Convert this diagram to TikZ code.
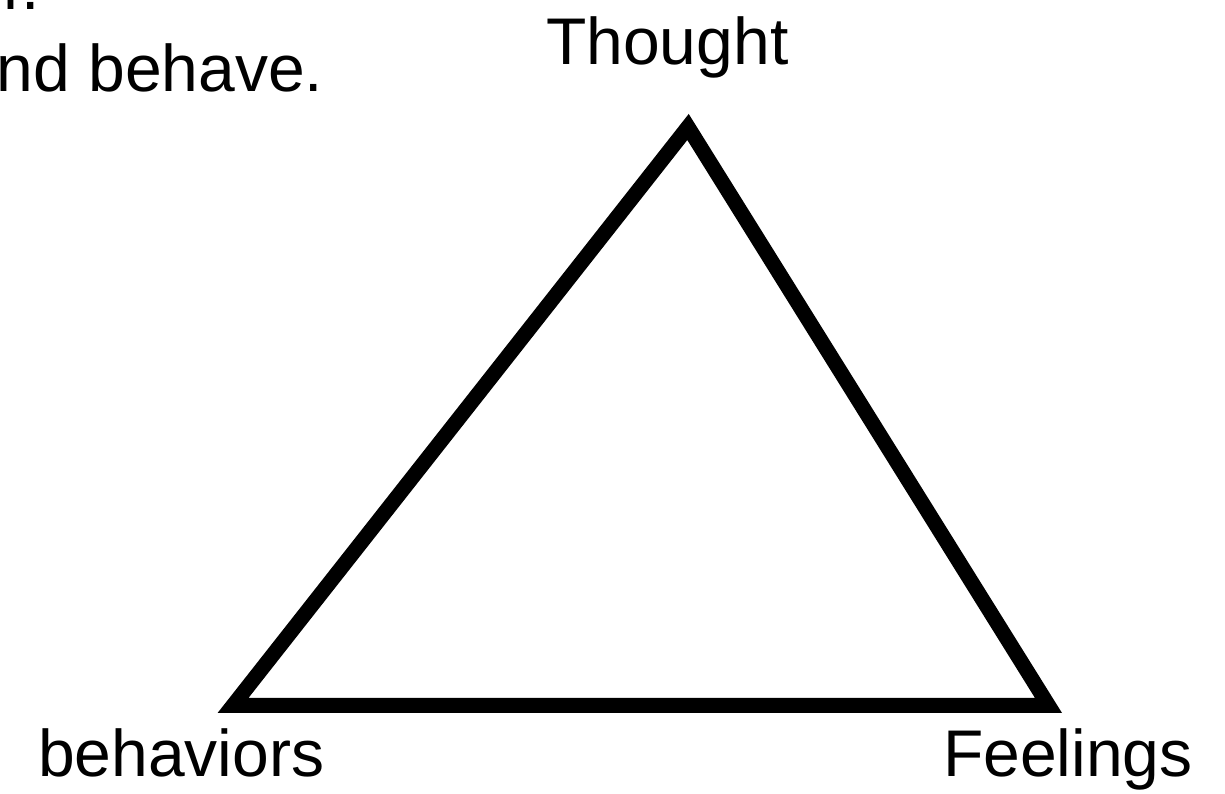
\documentclass[tikz,border=0pt]{standalone}
\usepackage{fontspec}
\setmainfont{Liberation Sans}
\begin{document}
\begin{tikzpicture}[x=1pt,y=1pt,
  lbl/.style={inner sep=0pt,anchor=base west,font=\fontsize{66}{79}\selectfont},
  tri/.style={line width=15pt,line join=miter,draw=black}]
\useasboundingbox (0,0) rectangle (1225,794);
\fill[white] (0,0) rectangle (1225,794);
\node[lbl] (l1) at (3,784) {r.};
\node[lbl] (l2) at (-3.5,702) {nd behave.};
\node[lbl] (thought) at (546,729) {Thought};
\node[lbl] (behav) at (38,17) {behaviors};
\node[lbl] (feel) at (943,17) {Feelings};
\coordinate (T) at (688,667);
\coordinate (B) at (233,88.5);
\coordinate (F) at (1048.5,88.5);
\draw[tri] (T) -- (B) -- (F) -- cycle;
\end{tikzpicture}
\end{document}
